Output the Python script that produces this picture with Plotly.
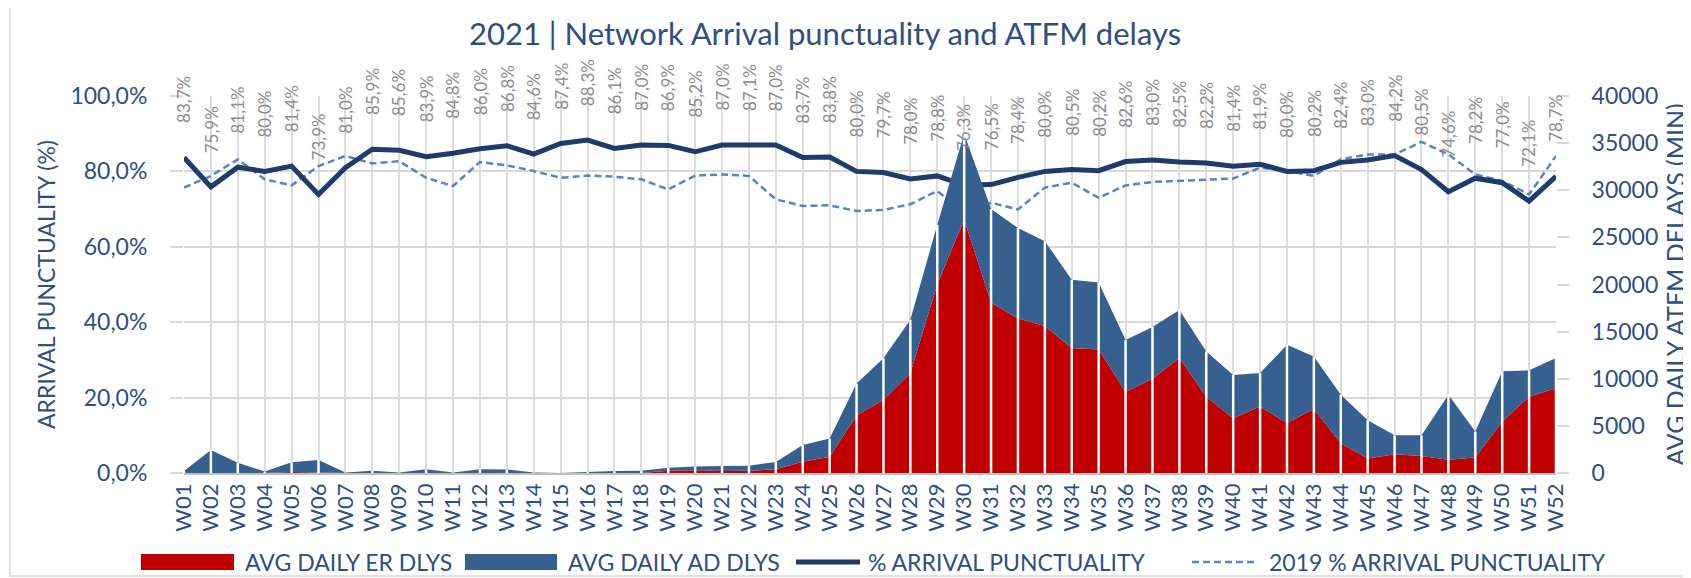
import plotly.graph_objects as go

weeks = [f"W{i:02d}" for i in range(1, 53)]

er_delays = [0, 0, 0, 0, 100, 50, 0, 0, 0, 0, 0, 0, 0, 0, 0, 0, 0, 0,
             250, 300, 200, 250, 390, 1200, 1730, 6100, 7750, 10580, 20000,
             26900, 18100, 16400, 15600, 13250, 13100, 8600, 10000, 12200, 8100, 5800, 7050,
             5300, 6800, 3150, 1550, 2000, 1800, 1400, 1650, 5450, 8100, 9000]

total_delays = [200, 2450, 1100, 150, 1130, 1380, 50, 250, 50, 390, 50, 400, 380, 50, 0, 100, 200, 250,
                570, 700, 740, 780, 1170, 2970, 3650, 9500, 12180, 16250, 26340,
                36000, 28000, 26000, 24600, 20500, 20200, 14100, 15500, 17300, 12900, 10400, 10600,
                13600, 12350, 8300, 5600, 4000, 4000, 8300, 4400, 10800, 10900, 12200]

ad_delays = [t - e for t, e in zip(total_delays, er_delays)]

punct_2021 = [83.7, 75.9, 81.1, 80.0, 81.4, 73.9, 81.0, 85.9, 85.6, 83.9, 84.8, 86.0, 86.8,
              84.6, 87.4, 88.3, 86.1, 87.0, 86.9, 85.2, 87.0, 87.1, 87.0, 83.7, 83.8, 80.0,
              79.7, 78.0, 78.8, 76.3, 76.5, 78.4, 80.0, 80.5, 80.2, 82.6, 83.0, 82.5, 82.2,
              81.4, 81.9, 80.0, 80.2, 82.4, 83.0, 84.2, 80.5, 74.6, 78.2, 77.0, 72.1, 78.7]

punct_2019 = [75.7, 78.8, 83.2, 77.9, 76.3, 81.4, 84.1, 82.1, 82.7, 78.3, 76.1, 82.5, 81.6,
              80.1, 78.3, 78.9, 78.6, 77.9, 75.2, 78.9, 79.2, 78.8, 72.6, 70.8, 71.0, 69.5,
              69.8, 71.3, 74.8, 69.1, 71.7, 69.9, 75.7, 77.0, 73.0, 76.3, 77.2, 77.5, 77.7,
              78.1, 81.0, 80.1, 78.8, 83.2, 84.5, 84.5, 87.8, 84.5, 79.2, 77.5, 73.9, 84.1]

series_names = ["AVG DAILY ER DLYS", "AVG DAILY AD DLYS", "% ARRIVAL PUNCTUALITY",
                "2019 % ARRIVAL PUNCTUALITY"]

RED = "#C00000"
BLUE = "#36608F"
DARK = "#1F3B6B"
DASH = "#5585C4"
TXT = "#2F4F7F"
FONT = "Lato"
DASHSTYLE = "7px,4px"

W, H = 1691, 578
OFF = 8  # page body margin
# plot area as seen on screen
SX0, SX1, SY0, SY1 = 184, 1556, 96, 473
ML, MR = SX0 - OFF, W - (SX1 - OFF)
MT, MB = SY0 - OFF, H - (SY1 - OFF)
PW, PH = SX1 - SX0, SY1 - SY0


def px_x(px):
    return (px - SX0) / PW


def px_y(py):
    return (SY1 - py) / PH


fig = go.Figure()

fig.add_trace(go.Scatter(x=weeks, y=er_delays, name=series_names[0], yaxis="y2",
                         stackgroup="d", mode="none", fillcolor=RED, showlegend=False))
fig.add_trace(go.Scatter(x=weeks, y=ad_delays, name=series_names[1], yaxis="y2",
                         stackgroup="d", mode="none", fillcolor=BLUE, showlegend=False))

# white separators through the areas at each week
sx, sy = [], []
for wk, t in zip(weeks, total_delays):
    sx += [wk, wk, None]
    sy += [0, t, None]
fig.add_trace(go.Scatter(x=sx, y=sy, yaxis="y2", mode="lines",
                         line=dict(color="white", width=2.5), hoverinfo="skip",
                         showlegend=False))

fig.add_trace(go.Scatter(x=weeks, y=punct_2019, name=series_names[3], mode="lines",
                         line=dict(color=DASH, width=2.5, dash=DASHSTYLE), showlegend=False))
fig.add_trace(go.Scatter(x=weeks, y=punct_2021, name=series_names[2], mode="lines",
                         line=dict(color=DARK, width=5), showlegend=False))

annotations = []
for wk, v in zip(weeks, punct_2021):
    annotations.append(dict(x=wk, y=v, xref="x", yref="y", text=f"{v:.1f}%".replace(".", ","),
                            textangle=-90, showarrow=False, yanchor="bottom", yshift=32,
                            font=dict(family=FONT, size=17, color="#8C8C8C")))

# legend built from series names
leg_keys = [
    dict(kind="rect", color=RED, x0=141, x1=234, tx=243),
    dict(kind="rect", color=BLUE, x0=465, x1=557, tx=566),
    dict(kind="line", color=DARK, x0=796, x1=860, tx=866, width=5, dash="solid"),
    dict(kind="line", color=DASH, x0=1192, x1=1256, tx=1267, width=2.5, dash=DASHSTYLE),
]
shapes = []
leg_y = 562
for name, k in zip(series_names, leg_keys):
    if k["kind"] == "rect":
        shapes.append(dict(type="rect", xref="paper", yref="paper",
                           x0=px_x(k["x0"]), x1=px_x(k["x1"]),
                           y0=px_y(leg_y + 8), y1=px_y(leg_y - 8),
                           fillcolor=k["color"], line=dict(width=0)))
    else:
        shapes.append(dict(type="line", xref="paper", yref="paper",
                           x0=px_x(k["x0"]), x1=px_x(k["x1"]),
                           y0=px_y(leg_y), y1=px_y(leg_y),
                           line=dict(color=k["color"], width=k["width"], dash=k["dash"])))
    annotations.append(dict(x=px_x(k["tx"]), y=px_y(leg_y), xref="paper", yref="paper",
                            text=name, showarrow=False, xanchor="left", yanchor="middle",
                            font=dict(family=FONT, size=23, color=TXT)))

# outer frame
shapes.append(dict(type="path", xref="paper", yref="paper",
                   path=f"M {px_x(1720)},{px_y(5)} L {px_x(10)},{px_y(5)} L {px_x(10)},{px_y(576)} L {px_x(1720)},{px_y(576)}",
                   line=dict(color="#D9D9D9", width=1.5)))

fig.update_layout(
    width=W, height=H,
    margin=dict(l=ML, r=MR, t=MT, b=MB, autoexpand=False),
    paper_bgcolor="white", plot_bgcolor="white",
    separators=",.",
    title=dict(text="2021 | Network Arrival punctuality and ATFM delays",
               x=px_x(825), xanchor="center", xref="paper", y=1 - (34 - OFF) / H, yanchor="middle",
               font=dict(family=FONT, size=31, color=TXT)),
    xaxis=dict(type="category", categoryorder="array", categoryarray=weeks,
               tickmode="array", tickvals=weeks, ticktext=weeks,
               range=[0, len(weeks) - 1], showgrid=True, gridcolor="#DDDDDD", gridwidth=1.5,
               tickangle=-90, tickfont=dict(family=FONT, size=22, color=TXT),
               showline=True, linecolor="#BFBFBF", linewidth=1.5, ticks="", automargin=False),
    yaxis=dict(range=[0, 100], dtick=20, tickformat=".1f", ticksuffix="%",
               showgrid=True, gridcolor="#D9D9D9", gridwidth=1.5, zeroline=False,
               ticks="outside", ticklen=13, tickcolor="#D9D9D9", tickwidth=1.5,
               ticklabelstandoff=18,
               tickfont=dict(family=FONT, size=23, color=TXT),
               title=dict(text="ARRIVAL PUNCTUALITY (%)", standoff=8,
                          font=dict(family=FONT, size=23, color=TXT)),
               automargin=False),
    yaxis2=dict(range=[0, 40000], dtick=5000, tickformat="d", overlaying="y", side="right",
                showgrid=False, zeroline=False, ticks="outside", ticklen=12,
                tickcolor="#D9D9D9", tickwidth=1.5, ticklabelstandoff=18,
                tickfont=dict(family=FONT, size=23, color=TXT),
                title=dict(text="AVG DAILY ATFM DELAYS (MIN)", standoff=10,
                           font=dict(family=FONT, size=25, color=TXT)),
                automargin=False),
    annotations=annotations,
    shapes=shapes,
    showlegend=False,
)

fig.write_html("out.html")
